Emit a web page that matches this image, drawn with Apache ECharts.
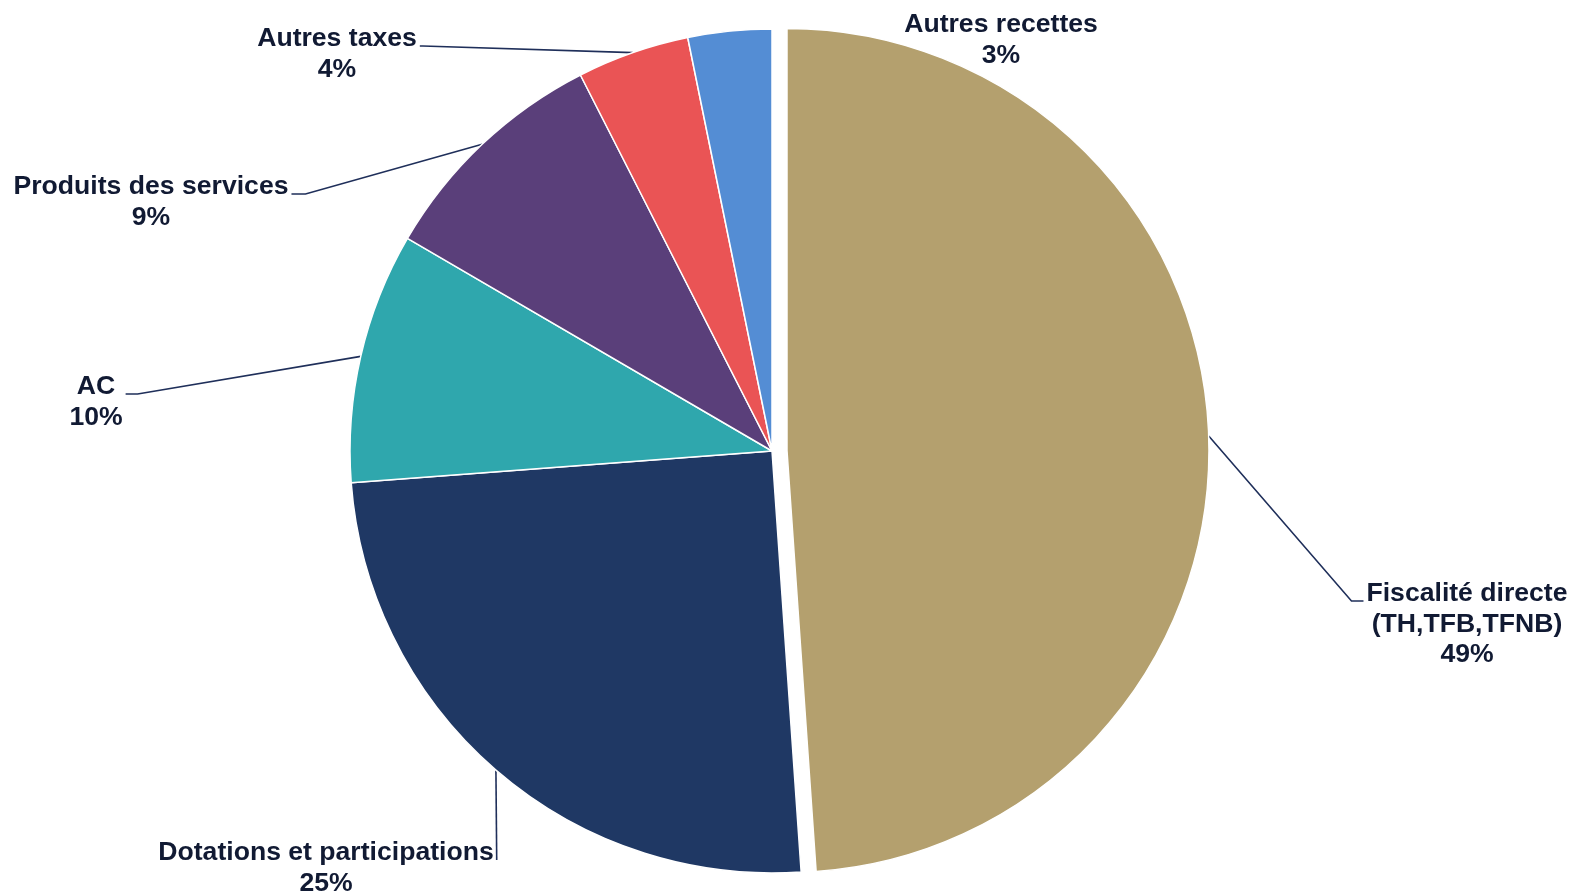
<!DOCTYPE html>
<html>
<head>
<meta charset="utf-8">
<script src="https://cdn.jsdelivr.net/npm/echarts/dist/echarts.min.js"></script>
<style>
  html, body { margin: 0; padding: 0; background: #ffffff; }
  #chart { width: 1573px; height: 894px; }
</style>
</head>
<body>
<div id="chart"></div>
<script>
// ---- data ----
const categories = [
  'Fiscalité directe\n(TH,TFB,TFNB)',
  'Dotations et participations',
  'AC',
  'Produits des services',
  'Autres taxes',
  'Autres recettes'
];
const values = [48.9, 24.9, 9.6, 9.1, 4.3, 3.2];
const colors = ['#B4A06E', '#1F3864', '#2FA7AD', '#5A3F7A', '#EA5455', '#548DD4'];
const explodedIndex = 0;

// ---- layout: label text centre x, first-line centre y, leader attach side, stub length ----
const labelCfg = [
  { x: 1467, y: 594, attach: 'left',  stub: 12 },
  { x: 326,  y: 853, attach: 'right', stub: 0 },
  { x: 96,   y: 387, attach: 'right', stub: 12 },
  { x: 151,  y: 187, attach: 'right', stub: 14 },
  { x: 337,  y: 39,  attach: 'right', stub: 3 },
  { x: 1001, y: 25,  attach: null,    stub: 0 }
];
const ATTACH_DY = 7;
const LH = 30.5;
const FONT_SIZE = 26.6;
const textColor = '#111A33';
const lineColor = '#1F2F5A';
const PIE_CENTER = [772, 451];
const PIE_RADIUS = 422;
const EXPLODE = 15;

function buildData(visibleFn) {
  return categories.map((name, i) => {
    const vis = visibleFn(i);
    return {
      name: name,
      value: values[i],
      itemStyle: vis ? { color: colors[i] } : { color: 'rgba(0,0,0,0)', borderWidth: 0 },
      label: { show: vis },
      labelLine: { show: vis && labelCfg[i].attach !== null }
    };
  });
}

function labelLayout(params) {
  const i = params.dataIndex;
  const cfg = labelCfg[i];
  const nLines = categories[i].split('\n').length + 1;
  const r = params.labelRect;
  const cy = cfg.y + (nLines - 1) * LH / 2;
  const res = { x: cfg.x, y: cy, align: 'center', verticalAlign: 'middle' };
  const pts = params.labelLinePoints;
  if (cfg.attach && pts && pts.length) {
    const edge = cfg.attach === 'left' ? cfg.x - r.width / 2 - 3 : cfg.x + r.width / 2 + 3;
    const dir = cfg.attach === 'left' ? -1 : 1;
    const ay = cfg.y + ATTACH_DY;
    res.labelLinePoints = [pts[0].slice(), [edge + dir * cfg.stub, ay], [edge, ay]];
  }
  return res;
}

// offset of exploded slice along its bisector
const total = values.reduce((a, b) => a + b, 0);
const before = values.slice(0, explodedIndex).reduce((a, b) => a + b, 0);
const midAng = (before + values[explodedIndex] / 2) / total * 2 * Math.PI;
const explodedCenter = [PIE_CENTER[0] + EXPLODE * Math.sin(midAng), PIE_CENTER[1] - EXPLODE * Math.cos(midAng)];

const common = {
  type: 'pie',
  radius: PIE_RADIUS,
  startAngle: 90,
  clockwise: true,
  avoidLabelOverlap: false,
  selectedMode: false,
  itemStyle: { borderColor: '#ffffff', borderWidth: 1.5 },
  emphasis: { disabled: true },
  label: {
    show: true,
    position: 'outside',
    formatter: p => p.name + '\n' + Math.round(p.percent) + '%',
    fontFamily: 'Liberation Sans, Arial, sans-serif',
    fontWeight: 'bold',
    fontSize: FONT_SIZE,
    lineHeight: LH,
    color: textColor,
    align: 'center',
    overflow: 'none'
  },
  labelLine: {
    show: true,
    length: 20,
    length2: 12,
    smooth: false,
    lineStyle: { color: lineColor, width: 1.6 }
  },
  labelLayout: labelLayout
};

const chart = echarts.init(document.getElementById('chart'), null, { renderer: 'canvas' });
chart.setOption({
  animation: false,
  backgroundColor: '#ffffff',
  tooltip: { show: false },
  series: [
    Object.assign({}, common, {
      center: PIE_CENTER,
      data: buildData(i => i !== explodedIndex)
    }),
    Object.assign({}, common, {
      center: explodedCenter,
      data: buildData(i => i === explodedIndex)
    })
  ]
});
</script>
</body>
</html>
